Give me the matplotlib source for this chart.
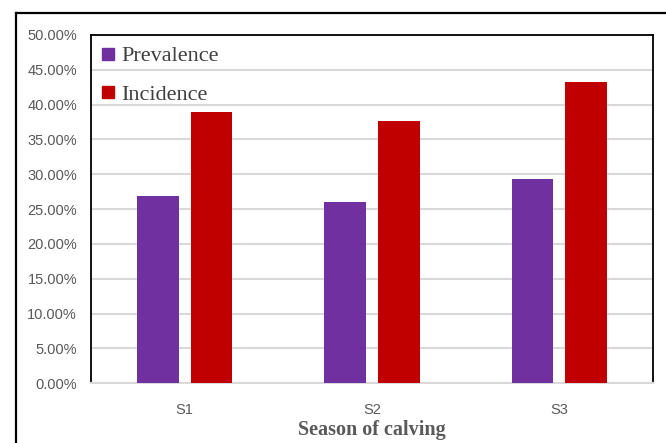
import numpy as np
import matplotlib.pyplot as plt
from matplotlib.lines import Line2D

# dados
seasons = ["S1", "S2", "S3"]
prevalence = [26.9, 26.0, 29.3]
incidence = [39.0, 37.6, 43.2]
y_ticks = np.arange(0, 51, 5)
y_labels = [f"{v:.2f}%" for v in y_ticks]

c_prev = "#7030A0"
c_inc = "#C00000"
cinza = "#595959"

fig = plt.figure(figsize=(6.66, 4.43), dpi=100)
ax = fig.add_axes([91/666, 1 - 383.3/443, (653 - 91)/666, (383.3 - 35)/443])

x = np.arange(len(seasons))
largura = 0.222
desloc = 0.143
ax.bar(x - desloc, prevalence, largura, color=c_prev, zorder=3)
ax.bar(x + desloc, incidence, largura, color=c_inc, zorder=3)

ax.set_xlim(-0.5, 2.5)
ax.set_ylim(0, 50)
ax.set_yticks(y_ticks)
ax.set_yticklabels(y_labels)
ax.set_xticks(x)
ax.set_xticklabels(seasons)
ax.tick_params(length=0, labelsize=10.5, labelcolor=cinza)
ax.tick_params(axis="y", pad=10)
ax.tick_params(axis="x", pad=14)
for lbl in ax.get_xticklabels() + ax.get_yticklabels():
    lbl.set_family("Liberation Sans")

ax.grid(axis="y", color="#D9D9D9", linewidth=1.5, zorder=0)
for lado in ["top", "left", "right"]:
    ax.spines[lado].set_color("black")
    ax.spines[lado].set_linewidth(1.3)
ax.spines["bottom"].set_color("#D9D9D9")
ax.spines["bottom"].set_linewidth(1.5)

ax.set_xlabel("Season of calving", family="Liberation Serif", fontweight="bold",
              fontsize=14.5, color=cinza, labelpad=2)

handles = [Line2D([], [], marker="s", linestyle="none", color=c_prev, markersize=8),
           Line2D([], [], marker="s", linestyle="none", color=c_inc, markersize=8)]
ax.legend(handles, ["Prevalence", "Incidence"], loc="upper left",
          bbox_to_anchor=(-0.021, 1.026), frameon=False,
          prop={"family": "Liberation Serif", "size": 16},
          labelcolor="#404040", handlelength=0.8, handletextpad=0.2,
          labelspacing=0.82, borderaxespad=0.5)

# moldura externa
fig.add_artist(Line2D([15.7/666, 1], [1 - 12.7/443] * 2, color="black", linewidth=1.6))
fig.add_artist(Line2D([15.7/666] * 2, [0, 1 - 12.7/443], color="black", linewidth=1.6))

plt.savefig("out.png", dpi=100)
